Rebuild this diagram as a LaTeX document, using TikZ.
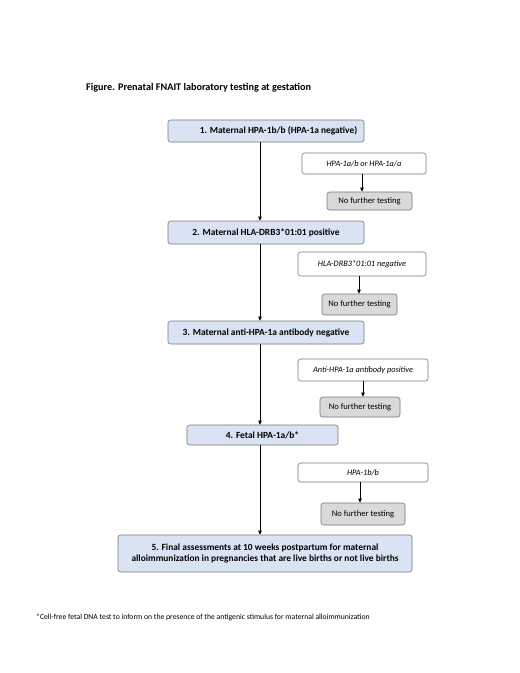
\documentclass[tikz,border=0pt]{standalone}
\usepackage{fontspec}
\setmainfont{Carlito}
\usetikzlibrary{arrows.meta}
\definecolor{bluefill}{RGB}{218,227,243}
\definecolor{greyfill}{RGB}{217,217,217}
\definecolor{edge}{RGB}{120,120,120}
\begin{document}
\begin{tikzpicture}[x=1pt,y=-1pt,
  mainbox/.style={draw=edge,fill=bluefill,rounded corners=2.5pt,line width=0.6pt,font=\fontsize{9.4}{11.5}\selectfont\bfseries,inner sep=0pt,align=center},
  sidebox/.style={draw=edge,fill=white,rounded corners=2.5pt,line width=0.6pt,font=\fontsize{8.3}{10}\selectfont\itshape,inner sep=0pt},
  stopbox/.style={draw=edge,fill=greyfill,rounded corners=2.5pt,line width=0.6pt,font=\fontsize{8.6}{10}\selectfont,inner sep=0pt},
  arr/.style={-{Triangle[length=4pt,width=3.5pt]},line width=0.8pt,black}]
\useasboundingbox (0,0) rectangle (520,673);
\node[anchor=west,font=\fontsize{10.2}{12}\selectfont\bfseries,inner sep=0pt] (title) at (86,88) {Figure. Prenatal FNAIT laboratory testing at gestation};
% main boxes
\node[mainbox,minimum width=196pt,minimum height=22pt] (b1) at (266,131) {\hspace*{25pt}1. Maternal HPA-1b/b (HPA-1a negative)};
\node[mainbox,minimum width=196pt,minimum height=23pt] (b2) at (266,232.5) {2. Maternal HLA-DRB3*01:01 positive};
\node[mainbox,minimum width=196pt,minimum height=23pt] (b3) at (266,332.5) {3. Maternal anti-HPA-1a antibody negative};
\node[mainbox,minimum width=151pt,minimum height=20pt] (b4) at (262.5,435) {4. Fetal HPA-1a/b*};
\node[mainbox,minimum width=294pt,minimum height=37pt] (b5) at (265,553.5) {5. Final assessments at 10 weeks postpartum for maternal\\alloimmunization in pregnancies that are live births or not live births};
% side boxes
\node[sidebox,minimum width=124pt,minimum height=21pt] (s1) at (364,163.5) {HPA-1a/b or HPA-1a/a};
\node[stopbox,minimum width=85pt,minimum height=18pt] (n1) at (369.5,201) {No further testing};
\node[sidebox,minimum width=128pt,minimum height=24pt] (s2) at (362,264) {HLA-DRB3*01:01 negative};
\node[stopbox,minimum width=75pt,minimum height=21pt] (n2) at (359.5,304.5) {No further testing};
\node[sidebox,minimum width=130pt,minimum height=22pt] (s3) at (363,370) {Anti-HPA-1a antibody positive};
\node[stopbox,minimum width=80pt,minimum height=20pt] (n3) at (360,407) {No further testing};
\node[sidebox,minimum width=130pt,minimum height=19pt] (s4) at (363,472.5) {HPA-1b/b};
\node[stopbox,minimum width=84pt,minimum height=22pt] (n4) at (363,514) {No further testing};
% main arrows
\draw[arr] (b1.south -| 260,0) -- (b2.north -| 260,0);
\draw[arr] (b2.south -| 260,0) -- (b3.north -| 260,0);
\draw[arr] (b3.south -| 260,0) -- (b4.north -| 260,0);
\draw[arr] (b4.south -| 260,0) -- (b5.north -| 260,0);
% side arrows
\draw[arr] (s1.south -| 362,0) -- (n1.north -| 362,0);
\draw[arr] (s2.south -| 359,0) -- (n2.north -| 359,0);
\draw[arr] (s3.south -| 363,0) -- (n3.north -| 363,0);
\draw[arr] (s4.south -| 360,0) -- (n4.north -| 360,0);
\node[anchor=west,font=\fontsize{7.7}{9}\selectfont,inner sep=0pt] (foot) at (36,617) {*Cell-free fetal DNA test to inform on the presence of the antigenic stimulus for maternal alloimmunization};
\end{tikzpicture}
\end{document}
